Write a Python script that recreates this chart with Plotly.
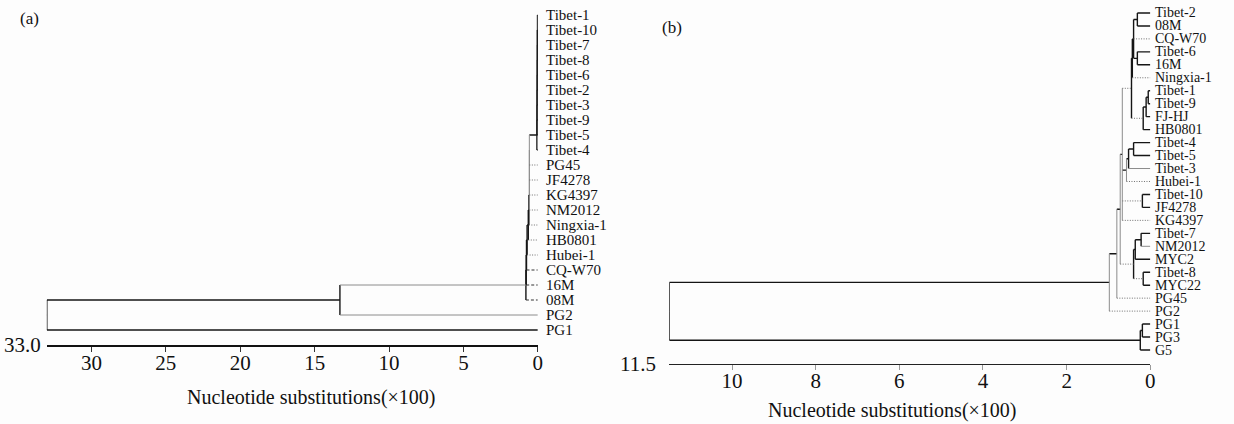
import plotly.graph_objects as go

# ---------------- panel (a) data ----------------
a_leaves = ["Tibet-1", "Tibet-10", "Tibet-7", "Tibet-8", "Tibet-6", "Tibet-2", "Tibet-3",
            "Tibet-9", "Tibet-5", "Tibet-4", "PG45", "JF4278", "KG4397", "NM2012",
            "Ningxia-1", "HB0801", "Hubei-1", "CQ-W70", "16M", "08M", "PG2", "PG1"]
a_nodes = ["aT1", "aT2", "aT3", "aT4", "aT5", "aT6", "aT7", "aT8",
           "aN11", "aN10", "aN9", "aN8", "aN7", "aN6", "aN5", "aN4", "aN3", "aN2", "aN1", "aRoot"]
a_heights = [0.02, 0.03, 0.03, 0.04, 0.04, 0.05, 0.05, 0.06,
             0.57, 0.57, 0.57, 0.57, 0.60, 0.64, 0.72, 0.76, 0.78, 0.80, 13.3, 33.0]
a_children = [
    ["Tibet-1", "Tibet-10", "Tibet-7"],
    ["aT1", "Tibet-8"],
    ["aT2", "Tibet-6"],
    ["aT3", "Tibet-2"],
    ["aT4", "Tibet-3"],
    ["aT5", "Tibet-9"],
    ["aT6", "Tibet-5"],
    ["aT7", "Tibet-4"],
    ["aT8", "PG45"],
    ["aN11", "JF4278"],
    ["aN10", "KG4397"],
    ["aN9", "NM2012"],
    ["aN8", "Ningxia-1"],
    ["aN7", "HB0801"],
    ["aN6", "Hubei-1"],
    ["aN5", "CQ-W70"],
    ["aN4", "16M"],
    ["aN3", "08M"],
    ["aN2", "PG2"],
    ["aN1", "PG1"],
]
a_ticks = [30, 25, 20, 15, 10, 5, 0]

# ---------------- panel (b) data ----------------
b_leaves = ["Tibet-2", "08M", "CQ-W70", "Tibet-6", "16M", "Ningxia-1", "Tibet-1", "Tibet-9",
            "FJ-HJ", "HB0801", "Tibet-4", "Tibet-5", "Tibet-3", "Hubei-1", "Tibet-10",
            "JF4278", "KG4397", "Tibet-7", "NM2012", "MYC2", "Tibet-8", "MYC22", "PG45",
            "PG2", "PG1", "PG3", "G5"]
b_nodes = ["bA", "bB", "bC", "bCN", "bD1", "bD2", "bD", "bU", "bE", "bF", "bFH", "bG", "bK",
           "bL1a", "bL1", "bL2", "bL", "bM3", "bM2", "bM", "bP1", "bP", "bRoot"]
b_heights = [0.31, 0.31, 0.40, 0.43, 0.05, 0.10, 0.17, 0.45, 0.40, 0.52, 0.57, 0.19, 0.67,
             0.22, 0.36, 0.17, 0.40, 0.72, 0.80, 0.98, 0.19, 0.24, 11.5]
b_children = [
    ["Tibet-2", "08M"],
    ["Tibet-6", "16M"],
    ["bA", "CQ-W70", "bB"],
    ["bC", "Ningxia-1"],
    ["Tibet-1", "Tibet-9"],
    ["bD1", "FJ-HJ"],
    ["bD2", "HB0801"],
    ["bCN", "bD"],
    ["Tibet-4", "Tibet-5"],
    ["bE", "Tibet-3"],
    ["bF", "Hubei-1"],
    ["Tibet-10", "JF4278"],
    ["bU", "bFH", "bG", "KG4397"],
    ["Tibet-7", "NM2012"],
    ["bL1a", "MYC2"],
    ["Tibet-8", "MYC22"],
    ["bL1", "bL2"],
    ["bK", "bL"],
    ["bM3", "PG45"],
    ["bM2", "PG2"],
    ["PG1", "PG3"],
    ["bP1", "G5"],
    ["bM", "bP"],
]
b_ticks = [10, 8, 6, 4, 2, 0]

# ---------------- styles ----------------
STYLES = {
    "black": dict(color="#151515", width=1.4),
    "gray": dict(color="#8c8c8c", width=1.0),
    "dot": dict(color="#6e6e6e", width=1.0, dash="1px,1.5px"),
    "dash": dict(color="#333333", width=1.1, dash="3px,2px"),
}
a_hstyle = {"PG45": "dot", "JF4278": "dot", "KG4397": "dot", "NM2012": "dot",
            "Ningxia-1": "dot", "HB0801": "dot", "Hubei-1": "dot",
            "CQ-W70": "dash", "16M": "dash", "08M": "dash",
            "aN2": "gray", "PG2": "gray"}
a_vstyle = {"aN11": "gray", "aN10": "gray", "aN9": "gray", "aN8": "gray"}
b_hstyle = {"CQ-W70": "dot", "Ningxia-1": "dot", "bU": "dot", "bD": "dot", "Hubei-1": "dot",
            "bG": "dot", "KG4397": "dot", "bL": "dot", "bL2": "dot", "PG45": "dot",
            "PG2": "dot", "NM2012": "gray", "Tibet-3": "gray"}
b_vstyle = {"bK": "gray", "bM3": "gray", "bM2": "gray", "bM": "gray", "bFH": "gray"}

FONT = "Liberation Serif, Times New Roman, DejaVu Serif, serif"


def build_tree(leaves, nodes, heights, children, hstyle, vstyle, stub):
    ypos = {lf: float(i) for i, lf in enumerate(leaves)}
    xpos = {lf: 0.0 for lf in leaves}
    segs = {k: ([], []) for k in STYLES}
    for n, h, ch in zip(nodes, heights, children):
        ypos[n] = (ypos[ch[0]] + ypos[ch[-1]]) / 2.0
        xpos[n] = h
    for n, h, ch in zip(nodes, heights, children):
        xs, ys = segs[vstyle.get(n, "black")]
        xs += [h, h, None]
        ys += [ypos[ch[0]], ypos[ch[-1]], None]
        for c in ch:
            xs, ys = segs[hstyle.get(c, "black")]
            xs += [h, xpos[c], None]
            ys += [ypos[c], ypos[c], None]
    root = nodes[-1]
    xs, ys = segs["gray"]
    xs += [xpos[root], xpos[root] + stub, None]
    ys += [ypos[root], ypos[root], None]
    return segs


fig = go.Figure()
annotations = []

panels = [
    ("x", "y", a_leaves, a_nodes, a_heights, a_children, a_hstyle, a_vstyle, 0.4, 15, 6),
    ("x2", "y2", b_leaves, b_nodes, b_heights, b_children, b_hstyle, b_vstyle, 0.1, 14, 3),
]
for xa, ya, lv, nd, hg, chl, hs, vs, stub, fsize, gap in panels:
    segs = build_tree(lv, nd, hg, chl, hs, vs, stub)
    for key, (xs, ys) in segs.items():
        if not xs:
            continue
        fig.add_trace(go.Scatter(x=xs, y=ys, mode="lines", line=STYLES[key],
                                 xaxis=xa, yaxis=ya, showlegend=False, hoverinfo="skip",
                                 cliponaxis=False))
    for i, name in enumerate(lv):
        annotations.append(dict(text=name, x=0, y=i, xref=xa, yref=ya, xanchor="left",
                                yanchor="middle", xshift=gap, showarrow=False,
                                font=dict(family=FONT, size=fsize, color="#111")))

W, H = 1234, 424
axis_common = dict(showgrid=False, zeroline=False, showline=True, ticks="outside",
                   ticklabelstandoff=-7,
                   tickfont=dict(family=FONT, size=21, color="#111"))
annotations += [
    dict(text="(a)", x=18 / W, y=(H - 18) / H, xref="paper", yref="paper",
         xanchor="left", yanchor="middle", showarrow=False,
         font=dict(family=FONT, size=17, color="#111")),
    dict(text="(b)", x=663 / W, y=(H - 28) / H, xref="paper", yref="paper",
         xanchor="left", yanchor="middle", showarrow=False,
         font=dict(family=FONT, size=17, color="#111")),
    dict(text="33.0", x=33.0, y=22, xref="x", yref="y", xanchor="right",
         yanchor="middle", xshift=-4, showarrow=False,
         font=dict(family=FONT, size=21, color="#111")),
    dict(text="11.5", x=11.5, y=27.08, xref="x2", yref="y2", xanchor="right",
         yanchor="middle", xshift=-11, showarrow=False,
         font=dict(family=FONT, size=21, color="#111")),
    dict(text="Nucleotide substitutions(×100)", x=312 / W, y=(H - 397) / H,
         xref="paper", yref="paper", xanchor="center", yanchor="middle",
         showarrow=False, font=dict(family=FONT, size=20, color="#111")),
    dict(text="Nucleotide substitutions(×100)", x=896 / W, y=(H - 410) / H,
         xref="paper", yref="paper", xanchor="center", yanchor="middle",
         showarrow=False, font=dict(family=FONT, size=20, color="#111")),
]

fig.update_layout(
    width=W, height=H, margin=dict(l=0, r=0, t=0, b=0),
    paper_bgcolor="#fdfdfd", plot_bgcolor="rgba(0,0,0,0)",
    font=dict(family=FONT),
    xaxis=dict(domain=[47 / W, 540 / W], range=[33.0, 0], tickvals=a_ticks,
               linecolor="#111", linewidth=1.5, ticklen=5, tickcolor="#333", anchor="y",
               **axis_common),
    yaxis=dict(domain=[(H - 345) / H, 1], range=[22, -1], visible=False, anchor="x"),
    xaxis2=dict(domain=[672 / W, 1155 / W], range=[11.5, 0], tickvals=b_ticks,
                linecolor="#222", linewidth=1.3, ticklen=5, tickcolor="#999", anchor="y2",
                **axis_common),
    yaxis2=dict(domain=[(H - 364) / H, 1], range=[27.08, -1.0], visible=False, anchor="x2"),
    annotations=annotations,
)

fig.write_html(
    "out.html",
    config={"displayModeBar": False},
    post_script="document.body.style.margin='0';document.body.style.overflow='hidden';",
)
